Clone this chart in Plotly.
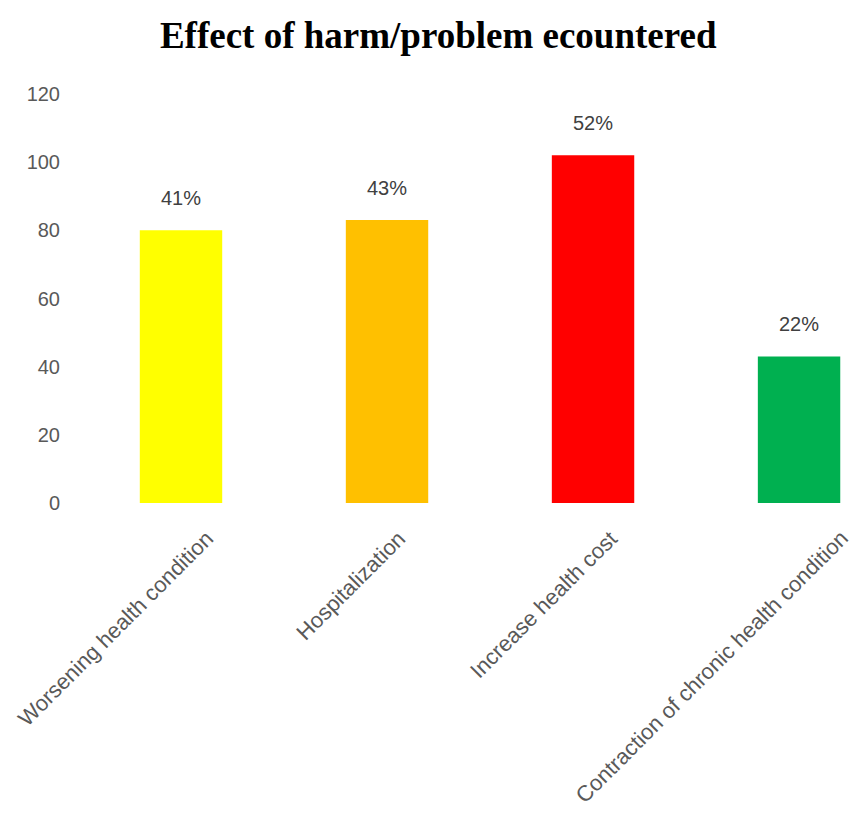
import plotly.graph_objects as go

categories = [
    "Worsening health condition",
    "Hospitalization",
    "Increase health cost",
    "Contraction of chronic health condition",
]
counts = [80, 83, 102, 43]
pct_labels = ["41%", "43%", "52%", "22%"]
bar_colors = ["#FFFF00", "#FFC000", "#FF0000", "#00B050"]
y_ticks = [0, 20, 40, 60, 80, 100, 120]

fig = go.Figure()
fig.add_trace(go.Bar(
    x=categories,
    y=counts,
    marker=dict(color=bar_colors, line=dict(width=0)),
    hoverinfo="x+y",
))

# percentage labels above each bar
for cat, val, pct in zip(categories, counts, pct_labels):
    fig.add_annotation(
        x=cat, y=val, xref="x", yref="y",
        text=pct, showarrow=False,
        xanchor="center", yanchor="bottom", yshift=19,
        font=dict(family="Liberation Sans", size=20, color="#404040"),
    )

# rotated category labels under the bars
for cat in categories:
    fig.add_annotation(
        x=cat, y=0, xref="x", yref="y",
        text=cat, showarrow=False, textangle=-45,
        xanchor="right", yanchor="top",
        xshift=round(1.3 * len(cat)) + 6, yshift=-20,
        font=dict(family="Liberation Sans", size=22, color="#595959"),
    )

fig.update_layout(
    width=866, height=814,
    margin=dict(l=78, r=0, t=94, b=311),
    paper_bgcolor="white", plot_bgcolor="white",
    showlegend=False,
    bargap=0.6,
    title=dict(
        text="<b>Effect of harm/problem ecountered</b>",
        x=0.506, xref="container", xanchor="center",
        y=1 - 35 / 814, yref="container", yanchor="middle",
        font=dict(family="Liberation Serif", size=37, color="#000000"),
    ),
    xaxis=dict(
        type="category",
        range=[-0.5, 3.325],
        showticklabels=False, showline=False, showgrid=False,
        zeroline=False, ticks="",
    ),
    yaxis=dict(
        range=[0, 120],
        tickvals=y_ticks,
        showline=False, showgrid=False, zeroline=False, ticks="",
        ticklabelstandoff=17,
        tickfont=dict(family="Liberation Sans", size=20, color="#595959"),
    ),
)

fig.write_html("out.html")
